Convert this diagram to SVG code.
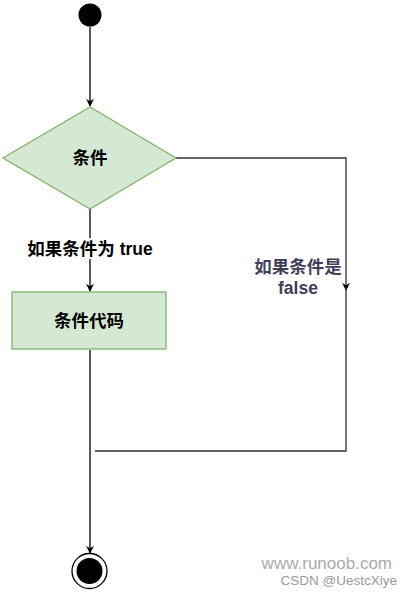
<svg xmlns="http://www.w3.org/2000/svg" width="412" height="597" viewBox="0 0 412 597">
<style>
.edge{fill:none;stroke:#000;stroke-width:1.3}
.node{fill:#d5e8d4;stroke:#82b366;stroke-width:1.3}
.t{font-family:"Liberation Sans","Noto Sans CJK SC",sans-serif;font-weight:bold;text-anchor:middle;dominant-baseline:central}
</style>
<defs>
<marker id="arr" viewBox="0 0 10 10" refX="9" refY="5" markerWidth="8" markerHeight="8" markerUnits="userSpaceOnUse" orient="auto">
<path d="M0,0 L10,5 L0,10 L3,5 Z" fill="#000"/>
</marker>
</defs>
<rect width="412" height="597" fill="#fff"/>
<g id="connectors">
<path class="edge" d="M90,27 V106" marker-end="url(#arr)"/>
<path class="edge" d="M90,209 V291" marker-end="url(#arr)"/>
<path class="edge" d="M90,350 V553" marker-end="url(#arr)"/>
<path class="edge" d="M176,158 H346 V290" marker-end="url(#arr)" style="stroke:#333"/>
<path class="edge" d="M346,288 V451 H95" style="stroke:#333"/>
<text class="t" x="90" y="249" font-size="17.5" fill="#000" style="stroke:#fff;stroke-width:4;paint-order:stroke">如果条件为 true</text>
<text class="t" x="298" y="267" font-size="17.5" fill="#3f3f5a">如果条件是</text>
<text class="t" x="298" y="288" font-size="17.5" fill="#3f3f5a">false</text>
</g>
<g id="start"><circle cx="90" cy="15" r="11.5" fill="#000"/></g>
<g id="cond">
<polygon class="node" points="90,107 176,158 90,209 3,158"/>
<text class="t" x="90" y="158" font-size="17.5">条件</text>
</g>
<g id="code">
<rect class="node" x="12" y="292" width="154" height="57"/>
<text class="t" x="89" y="321" font-size="17.5">条件代码</text>
</g>
<g id="end">
<circle cx="89.5" cy="571" r="17.5" fill="#fff" stroke="#000" stroke-width="1.3"/>
<circle cx="89.5" cy="571" r="13" fill="#000"/>
</g>
<text x="392" y="569" font-family="Liberation Sans,sans-serif" font-size="17" fill="#aaa" text-anchor="end">www.runoob.com</text>
<text x="397" y="585" font-family="Liberation Sans,sans-serif" font-size="13.5" fill="#999" text-anchor="end">CSDN @UestcXiye</text>
</svg>
